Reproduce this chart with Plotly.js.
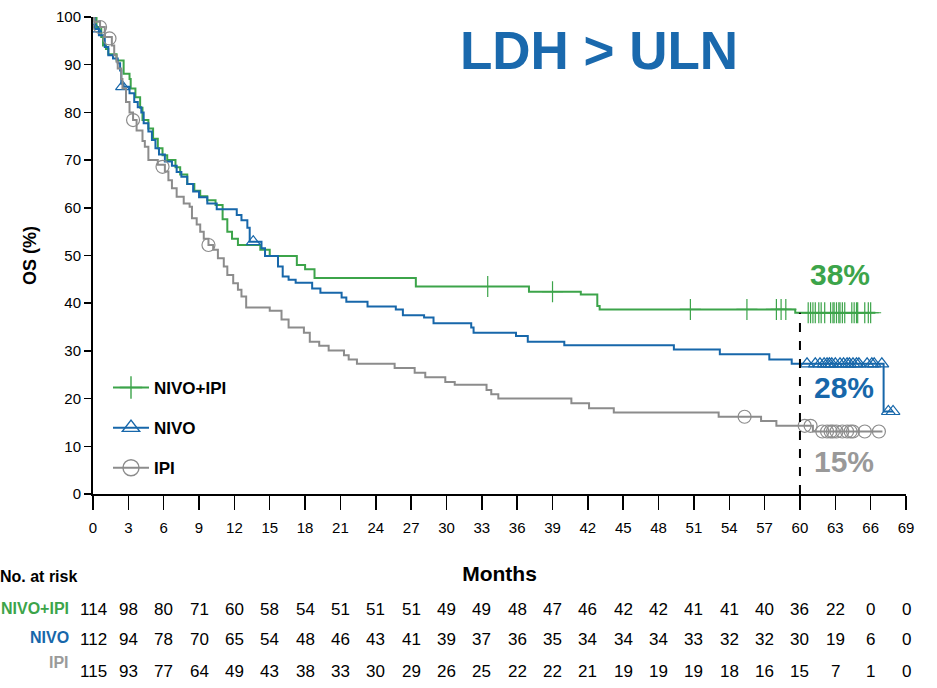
<!DOCTYPE html>
<html>
<head>
<meta charset="utf-8">
<script src="https://cdn.plot.ly/plotly-3.0.1.min.js"></script>
<style>
  html, body { margin: 0; padding: 0; background: #fff; }
  #chart { width: 937px; height: 688px; }
</style>
</head>
<body>
<div id="chart"></div>
<script>
// ---------------- DATA ----------------
const seriesNames = ["NIVO+IPI", "NIVO", "IPI"];
const seriesColors = ["#3ca44a", "#1767aa", "#8c8c8c"];

// Kaplan-Meier step points (month, OS %)
const nivoIpiTime = [0, 0.3, 0.7, 0.85, 1.1, 1.3, 2.0, 2.6, 3.1, 3.2, 3.6, 4.0, 4.2, 4.7, 5.1, 5.5, 5.9, 6.3, 7.0, 7.4, 8.0, 8.6, 9.1, 9.7, 10.4, 11.0, 11.4, 11.8, 12.3, 14.2, 15.0, 17.3, 18.0, 18.8, 27.4, 37.0, 41.4, 42.8, 43.0, 59.6, 66.4];
const nivoIpiOS   = [100, 97.9, 95.8, 94.0, 93.3, 92.2, 90.9, 88.1, 87.0, 85.0, 83.2, 81.0, 78.4, 76.6, 74.5, 72.5, 71.0, 70.0, 68.5, 67.0, 65.0, 63.6, 62.4, 61.6, 60.6, 57.6, 55.0, 53.5, 52.2, 51.2, 49.9, 48.0, 47.1, 45.3, 43.5, 42.4, 41.8, 39.4, 38.7, 38.0, 38.0];

const nivoTime = [0, 0.15, 0.5, 1.0, 1.3, 1.7, 2.1, 2.3, 2.4, 2.6, 3.1, 3.5, 3.8, 4.1, 4.3, 4.7, 5.0, 5.3, 5.6, 6.1, 6.7, 7.1, 7.5, 8.0, 8.5, 9.0, 9.7, 10.5, 12.2, 12.6, 13.1, 13.3, 14.3, 14.6, 15.7, 16.1, 16.6, 17.2, 18.6, 19.3, 21.1, 21.5, 23.3, 25.7, 26.3, 28.1, 28.9, 32.1, 32.3, 35.9, 36.9, 40.0, 49.3, 53.2, 57.4, 59.3, 67.1, 67.9];
const nivoOS   = [100, 97.5, 96.2, 93.7, 92.0, 91.3, 90.3, 88.8, 86.0, 85.4, 84.0, 82.2, 81.1, 80.0, 77.7, 76.0, 74.2, 72.5, 71.2, 69.7, 68.8, 67.5, 66.5, 65.0, 63.4, 62.2, 60.9, 59.7, 58.5, 57.4, 55.8, 52.9, 51.5, 49.9, 47.7, 45.6, 44.9, 44.3, 43.1, 42.2, 41.2, 40.3, 39.3, 38.7, 37.5, 37.0, 35.8, 34.9, 33.8, 33.1, 31.9, 31.2, 30.3, 29.3, 28.2, 27.3, 17.3, 17.3];

const ipiTime = [0, 0.1, 0.6, 1.0, 1.6, 1.8, 2.0, 2.1, 2.4, 2.5, 2.8, 3.1, 3.4, 3.7, 4.2, 4.4, 4.7, 5.5, 6.1, 6.4, 6.7, 7.1, 7.7, 8.2, 8.4, 8.8, 9.1, 9.4, 9.8, 10.2, 10.6, 11.1, 11.4, 11.9, 12.3, 12.6, 13.0, 15.0, 16.0, 16.6, 17.9, 18.4, 19.2, 20.0, 21.3, 21.7, 22.4, 25.6, 27.3, 28.2, 29.9, 30.7, 33.4, 33.8, 34.4, 40.6, 42.1, 44.2, 53.1, 56.7, 58.0, 61.1, 67.0];
const ipiOS   = [100, 99.0, 97.9, 95.8, 94.0, 92.0, 90.6, 89.2, 87.0, 85.0, 82.2, 80.0, 78.4, 76.2, 74.0, 72.8, 70.0, 69.0, 67.6, 65.8, 64.1, 62.3, 60.9, 60.2, 57.8, 56.5, 55.0, 53.5, 52.2, 51.2, 49.4, 47.7, 45.9, 44.2, 42.8, 41.4, 39.1, 38.4, 36.6, 34.9, 33.8, 31.9, 31.1, 30.1, 29.1, 28.2, 27.3, 26.4, 25.4, 24.5, 23.5, 22.9, 21.8, 20.9, 20.0, 19.0, 18.0, 17.1, 16.2, 15.3, 14.3, 13.1, 13.1];

// Censored observations (month, OS %)
const nivoIpiCensTime = [33.5, 39.0, 50.7, 55.5, 58.0, 58.4, 58.8, 60.7, 60.9, 61.1, 61.3, 61.6, 61.8, 62.1, 62.6, 62.8, 62.9, 63.1, 63.3, 63.4, 63.6, 63.8, 64.4, 64.6, 64.8, 64.9, 65.5, 65.8, 66.0];
const nivoIpiCensOS   = [43.5, 42.4, 38.7, 38.7, 38.7, 38.7, 38.7, 38.0, 38.0, 38.0, 38.0, 38.0, 38.0, 38.0, 38.0, 38.0, 38.0, 38.0, 38.0, 38.0, 38.0, 38.0, 38.0, 38.0, 38.0, 38.0, 38.0, 38.0, 38.0];

const nivoCensTime = [0.15, 2.5, 13.6, 60.6, 61.3, 61.7, 62.05, 62.3, 62.5, 62.7, 63.0, 63.4, 63.7, 64.0, 64.2, 64.5, 64.8, 65.0, 65.7, 66.1, 66.3, 66.95, 67.5, 67.9];
const nivoCensOS   = [97.5, 85.4, 52.9, 27.3, 27.3, 27.3, 27.3, 27.3, 27.3, 27.3, 27.3, 27.3, 27.3, 27.3, 27.3, 27.3, 27.3, 27.3, 27.3, 27.3, 27.3, 27.3, 17.3, 17.3];

const ipiCensTime = [0.6, 1.4, 3.4, 5.9, 9.8, 55.3, 60.4, 60.9, 61.9, 62.3, 62.6, 62.8, 63.1, 63.6, 64.0, 64.3, 64.5, 65.5, 66.7];
const ipiCensOS   = [97.9, 95.5, 78.4, 68.6, 52.2, 16.2, 14.3, 14.3, 13.1, 13.1, 13.1, 13.1, 13.1, 13.1, 13.1, 13.1, 13.1, 13.1, 13.1];

// Number at risk
const riskMonths = [0, 3, 6, 9, 12, 15, 18, 21, 24, 27, 30, 33, 36, 39, 42, 45, 48, 51, 54, 57, 60, 63, 66, 69];
const riskNivoIpi = [114, 98, 80, 71, 60, 58, 54, 51, 51, 51, 49, 49, 48, 47, 46, 42, 42, 41, 41, 40, 36, 22, 0, 0];
const riskNivo    = [112, 94, 78, 70, 65, 54, 48, 46, 43, 41, 39, 37, 36, 35, 34, 34, 34, 33, 32, 32, 30, 19, 6, 0];
const riskIpi     = [115, 93, 77, 64, 49, 43, 38, 33, 30, 29, 26, 25, 22, 22, 21, 19, 19, 19, 18, 16, 15, 7, 1, 0];

const landmarkMonth = 60;
const landmarkLabels = ["38%", "28%", "15%"];
const landmarkLabelPos = [[63.4, 46.1], [63.7, 22.3], [63.7, 6.9]];
const xTicks = riskMonths;
const yTicks = [0, 10, 20, 30, 40, 50, 60, 70, 80, 90, 100];

// ---------------- CHART ----------------
const FONT = "Liberation Sans, Arial, Helvetica, sans-serif";
const curves = [[nivoIpiTime, nivoIpiOS], [nivoTime, nivoOS], [ipiTime, ipiOS]];
const cens = [[nivoIpiCensTime, nivoIpiCensOS], [nivoCensTime, nivoCensOS], [ipiCensTime, ipiCensOS]];
const symbols = ["cross-thin-open", "triangle-up-open", "circle-open"];
const symSizes = [15, 12, 13];
const legendSizes = [22, 15, 16];

const traces = [];
for (let i = 0; i < 3; i++) {
  traces.push({
    x: curves[i][0], y: curves[i][1], type: "scatter", mode: "lines",
    line: { shape: "hv", color: seriesColors[i], width: 2 },
    showlegend: false, hoverinfo: "skip"
  });
  traces.push({
    x: cens[i][0], y: cens[i][1], type: "scatter", mode: "markers",
    marker: { symbol: symbols[i], size: symSizes[i], color: seriesColors[i], line: { width: 1.2, color: seriesColors[i] } },
    showlegend: false, hoverinfo: "skip"
  });
}
for (let i = 0; i < 3; i++) {
  traces.push({
    x: [null], y: [null], type: "scatter", mode: "lines+markers", name: "<b>" + seriesNames[i] + "</b>",
    legendgroup: "g" + i,
    line: { color: seriesColors[i], width: 2 },
    marker: { symbol: symbols[i], size: legendSizes[i], color: seriesColors[i], line: { width: 1.4, color: seriesColors[i] } }
  });
}

function py(p) { return (494 - p) / 477; } // pixel row -> paper y

const annotations = [];
const riskRows = [riskNivoIpi, riskNivo, riskIpi];
const riskRowY = [609, 639, 671];
for (let r = 0; r < 3; r++) {
  for (let c = 0; c < riskMonths.length; c++) {
    annotations.push({
      x: riskMonths[c], xref: "x", y: py(riskRowY[r]), yref: "paper",
      text: String(riskRows[r][c]), showarrow: false,
      xanchor: "center", yanchor: "middle",
      font: { family: FONT, size: 17, color: "#000" }
    });
  }
}
const rowLabelY = [608, 637, 662];
for (let r = 0; r < 3; r++) {
  annotations.push({
    x: (71 - 93) / 813, xref: "paper", y: py(rowLabelY[r]), yref: "paper",
    text: "<b>" + seriesNames[r] + "</b>", showarrow: false,
    xanchor: "right", yanchor: "middle",
    font: { family: FONT, size: 16, color: r === 2 ? "#9a9a9a" : seriesColors[r] }
  });
}
annotations.push({
  x: (79 - 93) / 813, xref: "paper", y: py(576), yref: "paper",
  text: "<b>No. at risk</b>", showarrow: false, xanchor: "right", yanchor: "middle",
  font: { family: FONT, size: 16, color: "#000" }
});
const pctColors = [seriesColors[0], seriesColors[1], "#999999"];
for (let i = 0; i < 3; i++) {
  annotations.push({
    x: landmarkLabelPos[i][0], y: landmarkLabelPos[i][1], xref: "x", yref: "y",
    text: "<b>" + landmarkLabels[i] + "</b>", showarrow: false,
    xanchor: "center", yanchor: "middle",
    font: { family: FONT, size: 30, color: pctColors[i] }
  });
}

const layout = {
  width: 937, height: 688,
  paper_bgcolor: "#fff", plot_bgcolor: "#fff",
  margin: { l: 93, r: 31, t: 17, b: 194, pad: 0 },
  font: { family: FONT, color: "#000" },
  title: {
    text: "<b>LDH > ULN</b>", font: { family: FONT, size: 53, color: "#1a69ad" },
    x: 599 / 937, xref: "container", xanchor: "center",
    y: 1 - 50 / 688, yref: "container", yanchor: "middle"
  },
  xaxis: {
    range: [0, 69], tickvals: xTicks, ticktext: xTicks.map(String),
    showgrid: false, zeroline: false, showline: true, linecolor: "#000", linewidth: 2,
    ticks: "outside", ticklen: 14, tickwidth: 1.5, tickcolor: "#000",
    ticklabelstandoff: 5,
    tickfont: { family: FONT, size: 15, color: "#000" },
    title: { text: "<b>Months</b>", font: { family: FONT, size: 21, color: "#000" }, standoff: 31 },
    fixedrange: true
  },
  yaxis: {
    range: [0, 100], tickvals: yTicks,
    showgrid: false, zeroline: false, showline: true, linecolor: "#000", linewidth: 2,
    ticks: "outside", ticklen: 7, tickwidth: 1.5, tickcolor: "#000",
    tickfont: { family: FONT, size: 15, color: "#000" },
    title: { text: "<b>OS (%)</b>", font: { family: FONT, size: 18, color: "#000" }, standoff: 15 },
    fixedrange: true
  },
  showlegend: true,
  legend: {
    x: (108 - 93) / 813, y: py(370), xanchor: "left", yanchor: "top",
    bgcolor: "rgba(0,0,0,0)", borderwidth: 0,
    font: { family: FONT, size: 17, color: "#000" },
    tracegroupgap: 15, itemwidth: 36
  },
  shapes: [{
    type: "line", xref: "x", yref: "y",
    x0: landmarkMonth, x1: landmarkMonth, y0: 0, y1: nivoIpiOS[nivoIpiOS.length - 1],
    line: { color: "#000", width: 2, dash: "dash" }
  }],
  annotations: annotations
};

Plotly.newPlot("chart", traces, layout, { staticPlot: true, displayModeBar: false });
</script>
</body>
</html>
